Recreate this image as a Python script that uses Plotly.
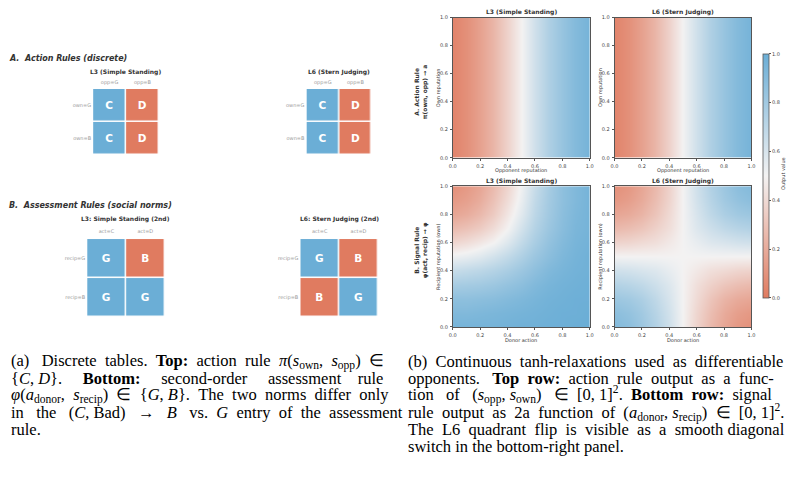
import plotly.graph_objects as go

W, H = 799, 484

# ---------------- data ----------------
action_cols = ["opp=G", "opp=B"]
action_rows = ["own=G", "own=B"]
l3_action = [["C", "D"], ["C", "D"]]
l6_action = [["C", "D"], ["C", "D"]]

assess_cols = ["act=C", "act=D"]
assess_rows = ["recip=G", "recip=B"]
l3_assess = [["G", "B"], ["G", "G"]]
l6_assess = [["G", "B"], ["B", "G"]]

# continuous grids (x = 0..1, y = 0..1, step 0.1)
grid = [0.0, 0.1, 0.2, 0.3, 0.4, 0.5, 0.6, 0.7, 0.8, 0.9, 1.0]
edge = [0.0, 1.0]

# action rule output (depends on opponent reputation only), rows y=0 and y=1
action_l3 = [
    [0.04, 0.09, 0.16, 0.25, 0.37, 0.50, 0.63, 0.75, 0.84, 0.91, 0.96],
    [0.04, 0.09, 0.16, 0.25, 0.37, 0.50, 0.63, 0.75, 0.84, 0.91, 0.96],
]
action_l6 = [
    [0.04, 0.09, 0.16, 0.25, 0.37, 0.50, 0.63, 0.75, 0.84, 0.91, 0.96],
    [0.04, 0.09, 0.16, 0.25, 0.37, 0.50, 0.63, 0.75, 0.84, 0.91, 0.96],
]

# signal rule output, rows from recipient reputation 0.0 (first) to 1.0 (last)
signal_l3 = [
    [0.96, 0.96, 0.96, 0.96, 0.97, 0.98, 0.98, 0.99, 0.99, 1.00, 1.00],
    [0.92, 0.92, 0.93, 0.94, 0.95, 0.96, 0.97, 0.98, 0.99, 0.99, 1.00],
    [0.87, 0.87, 0.88, 0.89, 0.91, 0.93, 0.95, 0.97, 0.98, 0.99, 0.99],
    [0.78, 0.79, 0.80, 0.82, 0.85, 0.88, 0.92, 0.95, 0.97, 0.98, 0.99],
    [0.66, 0.68, 0.70, 0.73, 0.77, 0.82, 0.87, 0.92, 0.95, 0.97, 0.98],
    [0.52, 0.54, 0.57, 0.62, 0.68, 0.75, 0.82, 0.88, 0.93, 0.96, 0.98],
    [0.38, 0.41, 0.45, 0.50, 0.58, 0.68, 0.77, 0.85, 0.91, 0.95, 0.97],
    [0.27, 0.30, 0.34, 0.41, 0.50, 0.62, 0.73, 0.82, 0.89, 0.94, 0.96],
    [0.18, 0.21, 0.26, 0.34, 0.45, 0.57, 0.70, 0.80, 0.88, 0.93, 0.96],
    [0.13, 0.16, 0.21, 0.30, 0.41, 0.54, 0.68, 0.79, 0.87, 0.92, 0.96],
    [0.09, 0.13, 0.18, 0.27, 0.38, 0.52, 0.66, 0.78, 0.87, 0.92, 0.96],
]
signal_l6 = [
    [0.91, 0.88, 0.82, 0.74, 0.63, 0.50, 0.37, 0.26, 0.18, 0.12, 0.09],
    [0.88, 0.85, 0.80, 0.72, 0.62, 0.50, 0.38, 0.28, 0.20, 0.15, 0.12],
    [0.82, 0.80, 0.76, 0.69, 0.60, 0.50, 0.40, 0.31, 0.24, 0.20, 0.18],
    [0.74, 0.72, 0.69, 0.64, 0.58, 0.50, 0.42, 0.36, 0.31, 0.28, 0.26],
    [0.63, 0.62, 0.60, 0.58, 0.54, 0.50, 0.46, 0.42, 0.40, 0.38, 0.37],
    [0.50, 0.50, 0.50, 0.50, 0.50, 0.50, 0.50, 0.50, 0.50, 0.50, 0.50],
    [0.37, 0.38, 0.40, 0.42, 0.46, 0.50, 0.54, 0.58, 0.60, 0.62, 0.63],
    [0.26, 0.28, 0.31, 0.36, 0.42, 0.50, 0.58, 0.64, 0.69, 0.72, 0.74],
    [0.18, 0.20, 0.24, 0.31, 0.40, 0.50, 0.60, 0.69, 0.76, 0.80, 0.82],
    [0.12, 0.15, 0.20, 0.28, 0.38, 0.50, 0.62, 0.72, 0.80, 0.85, 0.88],
    [0.09, 0.12, 0.18, 0.26, 0.37, 0.50, 0.63, 0.74, 0.82, 0.88, 0.91],
]

ticks = [0.0, 0.2, 0.4, 0.6, 0.8, 1.0]
tick_text = ["0.0", "0.2", "0.4", "0.6", "0.8", "1.0"]

# caption lines (text) and the number of extra spaces used to justify each line
cap_a = [
    "(a) Discrete tables. <b>Top:</b> action rule <i>π</i>(<i>s</i><sub>own</sub>, <i>s</i><sub>opp</sub>) ∈",
    "{<i>C</i>,\u00a0<i>D</i>}. <b>Bottom:</b> second-order assessment rule",
    "<i>φ</i>(<i>a</i><sub>donor</sub>, <i>s</i><sub>recip</sub>) ∈ {<i>G</i>,\u00a0<i>B</i>}. The two norms differ only",
    "in the (<i>C</i>,\u00a0Bad) → <i>B</i> vs. <i>G</i> entry of the assessment",
    "rule.",
]
cap_a_extra = [9, 15, 8, 15, 0]
cap_b = [
    "(b) Continuous tanh-relaxations used as differentiable",
    "opponents. <b>Top row:</b> action rule output as a func-",
    "tion of (<i>s</i><sub>opp</sub>,\u00a0<i>s</i><sub>own</sub>) ∈ [0,\u00a01]<sup>2</sup>. <b>Bottom row:</b> signal",
    "rule output as 2a function of (<i>a</i><sub>donor</sub>,\u00a0<i>s</i><sub>recip</sub>) ∈ [0,\u00a01]<sup>2</sup>.",
    "The L6 quadrant flip is visible as a smooth diagonal",
    "switch in the bottom-right panel.",
]
cap_b_extra = [5, 9, 10, 8, 8, 0]

# ---------------- style ----------------
RED = "#E07B60"
BLUE = "#6BAED6"
MID = "#F3F2F2"
SANS = "DejaVu Sans"
SERIF = "Liberation Serif"
DARK = "#333333"
cscale = [[0.0, RED], [0.5, MID], [1.0, BLUE]]
good = {"C": 1, "G": 1, "D": 0, "B": 0}


def xd(a, b):
    return [a / W, b / W]


def yd(top, bottom):
    return [1 - bottom / H, 1 - top / H]


def justify(line, extra):
    words = line.split(" ")
    gaps = len(words) - 1
    if gaps <= 0 or extra <= 0:
        return line
    add = [extra // gaps + (1 if g < extra % gaps else 0) for g in range(gaps)]
    out = words[0]
    for g in range(gaps):
        out += " " + "\u00a0" * add[g] + words[g + 1]
    return out


fig = go.Figure()

# ---------------- discrete tables ----------------
tables = [
    (l3_action, action_cols, action_rows, (90, 156.5), (87, 153.5), 3),
    (l6_action, action_cols, action_rows, (305.5, 371.5), (87, 153.5), 3),
    (l3_assess, assess_cols, assess_rows, (84, 162.3), (239, 317.7), 4),
    (l6_assess, assess_cols, assess_rows, (299.3, 377.7), (239, 317.7), 4),
]
layout_axes = {}
for i, (tab, cols, rows, xr, yr, so) in enumerate(tables, start=1):
    z = [[good[c] for c in row] for row in tab]
    txt = [["<b>%s</b>" % c for c in row] for row in tab]
    sfx = "" if i == 1 else str(i)
    fig.add_trace(go.Heatmap(
        z=z, x=cols, y=rows, text=txt, texttemplate="%{text}",
        textfont=dict(family=SANS, size=10.5, color="white"),
        colorscale=[[0, RED], [1, BLUE]], zmin=0, zmax=1, showscale=False,
        xgap=1.5, ygap=1.5, hoverinfo="skip",
        xaxis="x" + sfx, yaxis="y" + sfx,
    ))
    layout_axes["xaxis" + sfx] = dict(
        domain=xd(*xr), anchor="y" + sfx, side="top", showgrid=False, zeroline=False,
        showline=False, ticks="", ticklabelstandoff=so,
        tickfont=dict(family=SANS, size=5, color="#9a9a9a"), fixedrange=True)
    layout_axes["yaxis" + sfx] = dict(
        domain=yd(*yr), anchor="x" + sfx, autorange="reversed", showgrid=False,
        zeroline=False, showline=False, ticks="", ticklabelstandoff=1,
        tickfont=dict(family=SANS, size=5, color="#9a9a9a"), fixedrange=True)

# ---------------- continuous heatmaps ----------------
heat = [
    (action_l3, grid, edge, (453.3, 591.7), (14.7, 156.7), True),
    (action_l6, grid, edge, (616.7, 755), (14.7, 156.7), False),
    (signal_l3, grid, grid, (453.3, 591.7), (185.5, 328), False),
    (signal_l6, grid, grid, (616.7, 755), (185.5, 328), False),
]
for j, (z, xs, ys, xr, yr, show) in enumerate(heat, start=5):
    sfx = str(j)
    fig.add_trace(go.Heatmap(
        z=z, x=xs, y=ys, zsmooth="best", colorscale=cscale, zmin=0, zmax=1,
        showscale=show, hoverinfo="skip", xaxis="x" + sfx, yaxis="y" + sfx,
        colorbar=dict(
            thickness=6, thicknessmode="pixels", len=244, lenmode="pixels",
            x=767 / W, xanchor="left", y=1 - 175 / H, yanchor="middle",
            xpad=0, ypad=0, outlinewidth=0.8, outlinecolor="#555555",
            tickvals=ticks, ticktext=tick_text, ticks="outside", ticklen=2,
            tickwidth=0.6, tickcolor="#555555",
            tickfont=dict(family=SANS, size=5, color="#444444")),
    ))
    common = dict(showgrid=False, zeroline=False, showline=True, mirror=True,
                  linecolor="#555555", linewidth=0.8, ticks="outside", ticklen=2,
                  tickwidth=0.6, tickcolor="#555555", tickvals=ticks,
                  ticktext=tick_text, range=[0, 1], fixedrange=True,
                  tickfont=dict(family=SANS, size=5, color="#444444"))
    layout_axes["xaxis" + sfx] = dict(domain=xd(*xr), anchor="y" + sfx,
                                      ticklabelstandoff=1, **common)
    layout_axes["yaxis" + sfx] = dict(domain=yd(*yr), anchor="x" + sfx,
                                      ticklabelstandoff=1, **common)

# ---------------- texts ----------------
ann = []


def T(text, x, y, size, color=DARK, xa="center", ya="middle", angle=0, fam=SANS):
    ann.append(dict(text=text, x=x / W, y=1 - y / H, xref="paper", yref="paper",
                    xanchor=xa, yanchor=ya, showarrow=False, textangle=angle,
                    borderpad=0,
                    font=dict(family=fam, size=size, color=color)))


T("<b><i>A.\u00a0\u00a0Action Rules (discrete)</i></b>", 4.5, 56.5, 8, xa="left")
T("<b><i>B.\u00a0\u00a0Assessment Rules (social norms)</i></b>", 4.5, 205, 8, xa="left")
T("<b>L3 (Simple Standing)</b>", 123.2, 69.5, 6)
T("<b>L6 (Stern Judging)</b>", 338.5, 69.5, 6)
T("<b>L3: Simple Standing (2nd)</b>", 123.2, 218.5, 6)
T("<b>L6: Stern Judging (2nd)</b>", 338.5, 218.5, 6)

T("<b>L3 (Simple Standing)</b>", 522.5, 9.3, 6)
T("<b>L6 (Stern Judging)</b>", 686, 9.3, 6)
T("<b>L3 (Simple Standing)</b>", 522.5, 180, 6)
T("<b>L6 (Stern Judging)</b>", 686, 180, 6)
for cx in (522.5, 686):
    T("Opponent reputation", cx, 170, 5)
    T("Donor action", cx, 341, 5)
for lx in (439, 602.3):
    T("Own reputation", lx, 85.7, 5, angle=-90)
    T("Recipient reputation (own)", lx, 256.7, 5, angle=-90)
T("<b>A. Action Rule<br>π(own, opp) → a</b>", 421.5, 90, 6, angle=-90)
T("<b>B. Signal Rule<br>φ(act, recip) → φ</b>", 421.5, 250, 6, angle=-90)
T("Output value", 788, 173, 5, angle=-90)

PAD = "<sup>\u00a0</sup><sub>\u00a0</sub>"
for k, line in enumerate(cap_a):
    T(justify(line, cap_a_extra[k]) + PAD, 6, 362 + 17.4 * k, 16.5,
      color="#000000", xa="left", fam=SERIF)
for k, line in enumerate(cap_b):
    T(justify(line, cap_b_extra[k]) + PAD, 407, 362 + 17.4 * k, 16.5,
      color="#000000", xa="left", fam=SERIF)

fig.update_layout(
    width=W, height=H, margin=dict(l=0, r=0, t=0, b=0),
    paper_bgcolor="white", plot_bgcolor="white", showlegend=False,
    annotations=ann, **layout_axes,
)
fig.write_html("out.html")
